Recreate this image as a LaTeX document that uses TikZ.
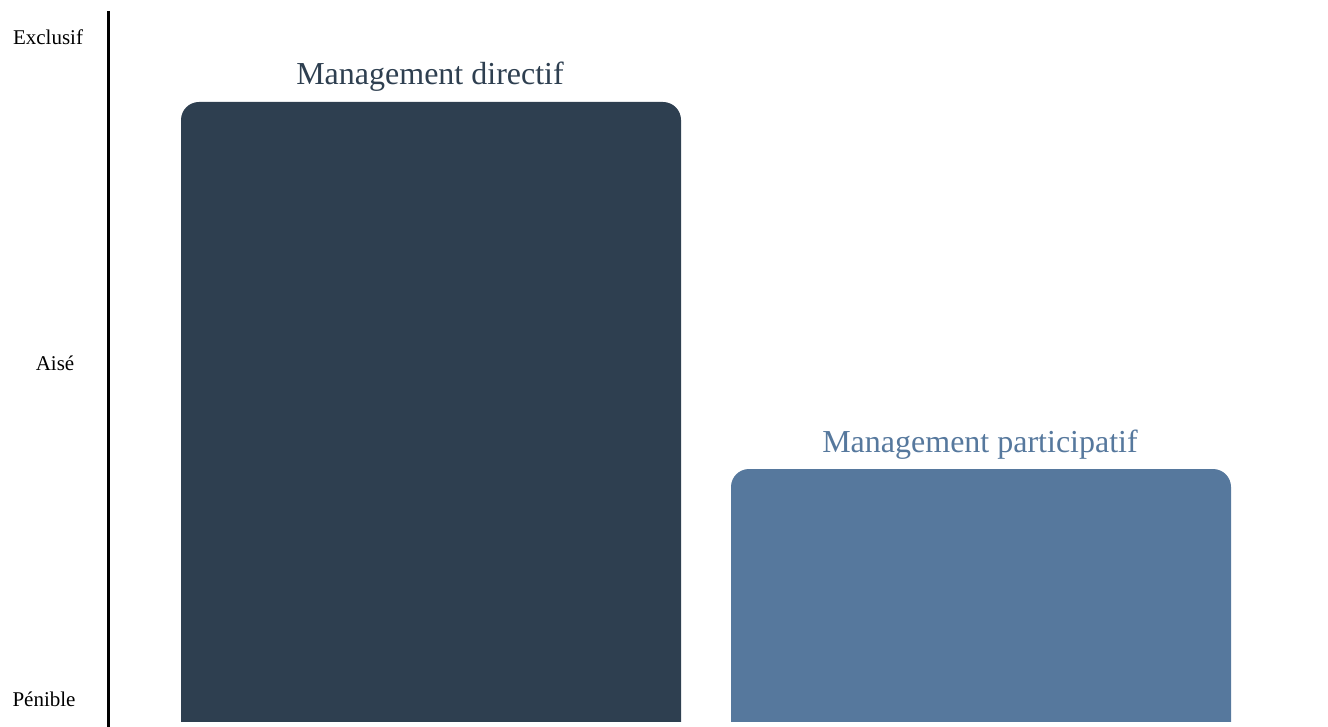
\documentclass[tikz,border=0pt]{standalone}
\usepackage{fontspec}
\setmainfont{Liberation Serif}
\definecolor{darkbar}{HTML}{2E3F50}
\definecolor{lightbar}{HTML}{56789D}
\begin{document}
\begin{tikzpicture}[x=1pt,y=-1pt,
  bar/.style={rounded corners=18pt},
  axislabel/.style={font=\fontsize{21}{25}\selectfont, inner sep=0pt, text=black},
  bartitle/.style={font=\fontsize{32}{38}\selectfont, inner sep=0pt, anchor=base}]
\useasboundingbox (0,0) rectangle (1328,727);
\coordinate (axtop) at (108,11);
\coordinate (axbot) at (108,727);
\draw[line width=3pt] (axtop) -- (axbot);
\node[axislabel] (excl) at (48,37) {Exclusif};
\node[axislabel] (aise) at (55,363) {Aisé};
\node[axislabel] (pen) at (44,699) {Pénible};
\begin{scope}
  \clip (0,0) rectangle (1328,721);
  \fill[darkbar, bar] (181,102) rectangle (681,760);
  \fill[lightbar, bar] (731,469) rectangle (1231,760);
\end{scope}
\node[bartitle, text=darkbar] (t1) at (430,85) {Management directif};
\node[bartitle, text=lightbar] (t2) at (980,452) {Management participatif};
\end{tikzpicture}
\end{document}
